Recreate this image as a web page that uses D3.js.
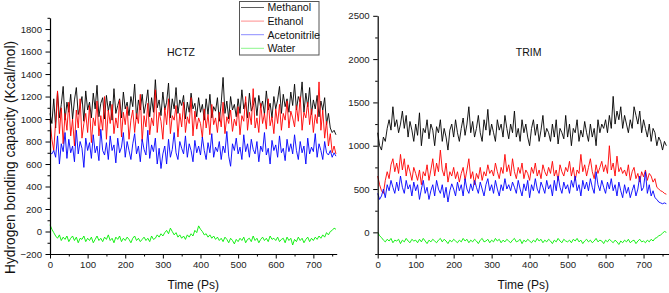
<!DOCTYPE html>
<html><head><meta charset="utf-8">
<script src="https://cdn.jsdelivr.net/npm/d3@7"></script>
<style>body{margin:0;background:#fff}svg{display:block;font-family:"Liberation Sans",Arial,sans-serif}</style>
</head><body><svg id="c" width="669" height="293"></svg>
<script>
const seriesNames = ["Methanol","Ethanol","Acetonitrile","Water"];
const seriesColors = ["#000000","#ff0000","#0000ff","#00ee00"];
const timeStep = 5; // ps between samples
const xTickLabels = [0,100,200,300,400,500,600,700];
const hctzTickLabels = [-200,0,200,400,600,800,1000,1200,1400,1600,1800];
const trimTickLabels = [0,500,1000,1500,2000,2500];

const hctzMethanol = [1050,960,1180,920,1240,1010,1130,1290,990,1150,
1060,1220,1000,1170,1280,1040,1110,1200,980,1250,
1080,1150,1010,1230,1090,1300,1020,1140,1190,1000,
1210,1070,1160,990,1270,1050,1120,1180,1010,1240,
1090,1150,1030,1200,1110,1310,1000,1170,1080,1220,
1050,1140,1260,1020,1190,1060,1350,1100,1170,1030,
1240,1080,1150,1320,1010,1180,1090,1280,1050,1170,
1120,1210,1000,1150,1060,1230,1090,1140,1020,1190,
1060,1130,990,1180,1040,1220,1010,1110,1070,1190,
980,1140,1370,1050,1160,1000,1200,1080,1130,1020,
1180,1050,1260,1090,1150,1010,1230,1070,1120,1190,
1030,1210,1100,1160,1040,1250,1080,1140,1010,1200,
1090,1170,1290,1050,1220,1110,1180,1060,1240,1120,
1310,1080,1200,1150,1330,1060,1230,1110,1280,1040,
1170,1090,1210,1020,1160,1080,1190,950,1050,920,
880,900,860];
const hctzEthanol = [1000,820,720,980,1250,870,1100,780,1050,900,
1150,850,1000,760,1080,920,1180,830,960,1050,
880,1120,790,1010,940,1160,850,1030,900,1200,
820,1080,960,1130,870,1010,920,1170,840,1060,
950,1110,820,990,1080,880,1050,960,1220,800,
1030,930,1140,860,1010,940,1260,880,1060,980,
820,1100,950,1180,870,1030,990,1120,840,1050,
930,1150,880,1020,960,1190,850,1070,910,1010,
960,830,1090,920,1040,860,1130,950,1010,880,
1060,930,1150,870,1020,960,1080,890,1000,940,
1110,860,1030,980,1200,900,1060,950,1270,920,
1010,880,1140,960,1050,910,1180,940,1020,870,
1090,960,1130,900,1050,990,1160,920,1070,1010,
930,1120,980,1200,900,1060,1010,1150,950,1090,
880,1040,960,1330,900,1080,830,980,760,870,
700,760,690];
const hctzAcetonitrile = [700,690,720,660,850,600,780,710,880,650,
820,700,760,620,900,690,800,740,570,830,
720,790,650,860,700,760,630,910,720,680,
790,640,850,720,770,610,830,700,750,880,
660,800,720,640,780,870,690,760,620,820,
730,680,900,650,770,710,830,600,740,560,
690,760,600,820,660,730,880,700,640,800,
740,690,850,660,780,720,620,810,700,760,
680,840,720,640,790,700,870,660,750,710,
800,640,760,700,890,670,580,780,720,830,
690,750,640,860,710,780,660,820,730,690,
800,620,760,710,880,680,740,600,810,720,
770,660,850,700,740,630,820,710,780,690,
860,720,640,800,700,760,600,830,690,750,
710,870,660,780,720,640,800,700,680,720,
660,700,670];
const hctzWater = [60,20,-10,-40,-60,-30,-80,-50,-70,-40,
-90,-60,-40,-80,-50,-100,-60,-70,-40,-90,
-60,-80,-50,-100,-70,-40,-80,-60,-90,-50,
-70,-30,-80,-60,-100,-50,-70,-40,-90,-60,
-80,-50,-70,-100,-60,-40,-80,-60,-90,-70,
-50,-80,-60,-90,-40,-70,-60,-30,-50,-20,
-40,-10,10,-20,30,0,-30,-10,-50,-30,
-60,-40,-70,-30,-50,-20,-40,10,-10,50,
20,0,-30,-20,-50,-30,-60,-40,-70,-50,
-80,-60,-90,-50,-70,-100,-60,-80,-110,-70,
-90,-60,-80,-50,-100,-70,-60,-90,-40,-80,
-60,-100,-70,-50,-80,-60,-90,-40,-70,-60,
-80,-50,-90,-70,-60,-100,-50,-80,-60,-120,
-70,-90,-50,-80,-60,-100,-70,-50,-90,-60,
-80,-50,-70,-40,-60,-30,-50,-10,-30,0,
10,30,20];

const trimMethanol = [1150,1000,950,1100,1050,1200,1300,1180,1450,1220,
1300,1150,1250,1400,1200,1350,1100,1280,1180,1050,
1250,1120,1380,1000,1200,1150,1300,1080,1250,1180,
1000,1220,1150,1300,1050,1200,1100,950,1180,1250,
1100,1300,1150,1050,1200,1320,1120,1250,1450,1150,
1280,1100,1200,1350,1150,1050,1300,1180,1420,1120,
1250,1150,1050,1300,1180,1250,1100,1350,1200,1080,
1250,1150,1400,1100,1200,1050,1300,1150,1250,1100,
1000,1200,1300,1120,1250,1050,1180,1350,1100,1200,
1150,1050,1250,1100,1300,1020,1200,1150,1080,1350,
1100,1250,1000,1200,1150,1300,1050,1180,1100,1280,
1150,1050,1250,1100,1200,1000,1300,1150,1250,1200,
1300,1150,1350,1200,1570,1250,1400,1300,1450,1200,
1350,1250,1150,1300,1200,1450,1350,1250,1400,1150,
1300,1200,1100,1250,1050,1200,1150,1000,1100,1050,
950,1050,1000];
const trimEthanol = [650,550,480,450,600,700,620,780,850,700,
800,680,900,720,850,650,780,700,600,750,
680,600,720,550,700,650,780,600,720,850,
650,800,700,950,720,650,800,580,700,650,
750,620,700,580,680,750,600,720,850,620,
700,550,680,620,750,600,700,650,780,680,
720,650,800,700,620,750,680,900,700,780,
650,850,700,620,750,680,800,620,720,680,
600,750,680,800,650,720,620,780,700,650,
750,680,820,650,720,600,780,700,650,750,
700,820,650,750,600,720,680,900,700,780,
650,750,850,700,620,780,680,750,820,700,
780,680,1000,720,800,650,880,700,750,680,
720,650,780,600,700,750,620,680,580,700,
640,720,600,680,650,580,620,520,500,480,
470,450,440];
const trimAcetonitrile = [450,380,420,500,400,550,480,600,520,450,
580,480,650,520,450,600,500,550,420,580,
480,550,380,500,600,450,520,380,480,550,
420,600,500,450,550,400,520,350,480,560,
500,420,580,480,550,420,620,500,450,560,
480,600,520,450,580,500,420,550,620,480,
550,450,600,500,420,550,480,620,500,550,
480,580,520,450,600,500,420,560,480,600,
400,550,480,620,500,450,580,520,450,600,
500,550,420,600,480,650,520,450,580,500,
550,450,600,520,650,480,550,420,600,500,
580,480,620,520,450,700,550,480,600,520,
450,580,500,620,480,550,420,580,480,400,
550,450,520,400,480,550,420,500,650,480,
520,700,450,550,420,480,400,380,350,340,
330,340,330];
const trimWater = [0,-40,-60,-90,-110,-80,-100,-70,-120,-90,
-100,-80,-130,-90,-110,-70,-100,-120,-80,-100,
-90,-120,-80,-110,-70,-100,-130,-90,-110,-80,
-100,-120,-90,-70,-110,-80,-100,-130,-90,-110,
-80,-100,-120,-90,-110,-70,-100,-80,-120,-90,
-110,-80,-100,-130,-90,-70,-110,-100,-80,-120,
-90,-110,-70,-100,-80,-120,-90,-110,-80,-100,
-120,-90,-70,-110,-100,-80,-130,-90,-110,-80,
-100,-120,-90,-110,-70,-100,-80,-120,-90,-110,
-80,-100,-130,-90,-110,-70,-100,-120,-80,-100,
-110,-90,-120,-80,-100,-70,-110,-90,-130,-100,
-80,-110,-90,-120,-100,-70,-110,-90,-100,-130,
-90,-110,-80,-100,-120,-90,-110,-140,-100,-120,
-90,-110,-80,-120,-100,-90,-130,-100,-80,-110,
-100,-120,-90,-110,-80,-100,-70,-60,-40,-30,
-10,10,0];

const svg = d3.select("#c");
const fmt = d3.format("d");

function panel(cfg){
  const g = svg.append("g");
  const x = d3.scaleLinear().domain(cfg.xDomain).range(cfg.xRange);
  const y = d3.scaleLinear().domain(cfg.yDomain).range(cfg.yRange);
  const line = d3.line().x((d,i)=>x(i*timeStep)).y(d=>y(d));
  cfg.series.forEach((s,k)=>{
    g.append("path").attr("d",line(s)).attr("fill","none")
      .attr("stroke",seriesColors[k]).attr("stroke-width",0.9).attr("stroke-linejoin","round");
  });
  g.append("g").attr("transform",`translate(0,${cfg.yRange[0]})`)
    .call(d3.axisBottom(x).tickValues(d3.range(50,cfg.xDomain[1],100)).tickSize(2.5).tickFormat(""))
    .call(a=>a.select(".domain").remove());
  g.append("g").attr("transform",`translate(${cfg.xRange[0]},0)`)
    .call(d3.axisLeft(y).tickValues(cfg.yMinor).tickSize(2.5).tickFormat(""))
    .call(a=>a.select(".domain").remove());
  const xa = g.append("g").attr("transform",`translate(0,${cfg.yRange[0]})`)
    .call(d3.axisBottom(x).tickValues(xTickLabels).tickFormat(fmt).tickSize(4.5).tickPadding(3).tickSizeOuter(0));
  const ya = g.append("g").attr("transform",`translate(${cfg.xRange[0]},0)`)
    .call(d3.axisLeft(y).tickValues(cfg.yTicks).tickFormat(fmt).tickSize(4.5).tickPadding(3.5).tickSizeOuter(0));
  [xa,ya].forEach(a=>{
    a.selectAll("text").attr("font-size","9.6px").attr("fill","#222").attr("font-family","Liberation Sans, Arial, sans-serif");
    a.select(".domain").attr("stroke","#000").attr("stroke-width",1.2);
  });
  g.selectAll("line").attr("stroke","#000");
  g.append("text").attr("x",cfg.titleX).attr("y",55.5).attr("text-anchor","middle")
    .attr("font-size","10.5px").attr("fill","#111").text(cfg.title);
  g.append("text").attr("x",(cfg.xRange[0]+cfg.xRange[1])/2).attr("y",289).attr("text-anchor","middle")
    .attr("font-size","12px").attr("fill","#111").text("Time (Ps)");
}

panel({xDomain:[0,762], xRange:[50,336.7], yDomain:[-200,1900], yRange:[254,17.8],
  yTicks:hctzTickLabels, yMinor:d3.range(-100,1901,200),
  series:[hctzMethanol,hctzEthanol,hctzAcetonitrile,hctzWater], title:"HCTZ", titleX:181});
panel({xDomain:[0,767], xRange:[377.7,669], yDomain:[-250,2500], yRange:[254,15.8],
  yTicks:trimTickLabels, yMinor:d3.range(-250,2500,500),
  series:[trimMethanol,trimEthanol,trimAcetonitrile,trimWater], title:"TRIM", titleX:528.7});

svg.append("text").attr("transform","translate(14.5,157.5) rotate(-90)").attr("text-anchor","middle")
  .attr("font-size","13.8px").attr("fill","#111").text("Hydrogen bonding capacity (Kcal/mol)");

const lg = svg.append("g");
lg.append("rect").attr("x",239.5).attr("y",1.5).attr("width",79.5).attr("height",53.5)
  .attr("fill","#fff").attr("stroke","#555").attr("stroke-width",1);
const rowY = d3.scalePoint().domain(seriesNames).range([7.5,48.3]);
seriesNames.forEach((n,k)=>{
  lg.append("line").attr("x1",241).attr("x2",264).attr("y1",rowY(n)).attr("y2",rowY(n))
    .attr("stroke",seriesColors[k]).attr("stroke-width",k===0?0.8:1).attr("stroke-opacity",k===0?0.8:0.45);
  lg.append("text").attr("x",267.5).attr("y",rowY(n)+3.8).attr("font-size","10.6px").attr("fill","#111").text(n);
});
</script></body></html>
